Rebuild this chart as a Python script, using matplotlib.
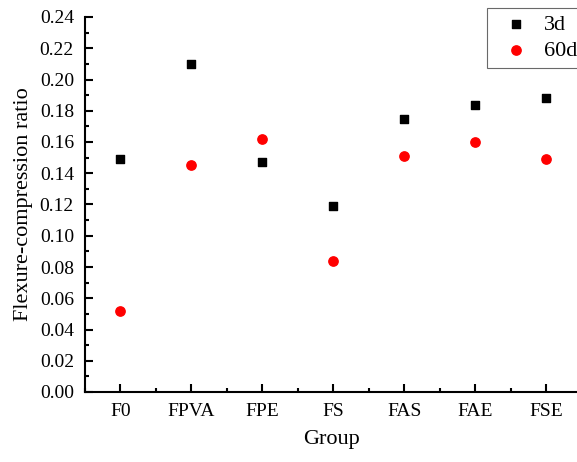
import matplotlib
matplotlib.use("Agg")
import matplotlib.pyplot as plt
from matplotlib.ticker import MultipleLocator, FixedLocator

# =========================
# DATA
# =========================
groups = ["F0", "FPVA", "FPE", "FS", "FAS", "FAE", "FSE"]
ratio_3d = [0.149, 0.210, 0.147, 0.119, 0.175, 0.184, 0.188]
ratio_60d = [0.052, 0.145, 0.162, 0.084, 0.151, 0.160, 0.149]

plt.rcParams["font.family"] = ["Liberation Serif", "DejaVu Serif"]

fig = plt.figure(figsize=(5.77, 4.62), dpi=100)
ax = fig.add_axes([85 / 577, 70 / 462, 492 / 577, 375 / 462])

x = list(range(len(groups)))
ax.scatter(x, ratio_3d, marker="s", s=36, color="black", label="3d", zorder=3)
ax.scatter(x, ratio_60d, marker="o", s=45, color="red", label="60d", zorder=3)

ax.set_xlim(-0.5, 6.43)
ax.set_ylim(0, 0.24)
ax.set_xticks(x)
ax.set_xticklabels(groups)
ax.xaxis.set_minor_locator(FixedLocator([i + 0.5 for i in range(-1, 7)]))
ax.yaxis.set_major_locator(MultipleLocator(0.02))
ax.yaxis.set_minor_locator(MultipleLocator(0.01))
ax.yaxis.set_major_formatter(matplotlib.ticker.FormatStrFormatter("%.2f"))

ax.spines["top"].set_visible(False)
ax.spines["right"].set_visible(False)
ax.spines["left"].set_linewidth(1.5)
ax.spines["bottom"].set_linewidth(1.5)
ax.tick_params(which="both", direction="in", width=1.5, labelsize=14)
ax.tick_params(which="major", length=6, pad=8)
ax.tick_params(which="minor", length=3)

ax.set_xlabel("Group", fontsize=16, labelpad=7)
ax.set_ylabel("Flexure-compression ratio", fontsize=16, labelpad=5)

leg = fig.legend(loc="upper left", bbox_to_anchor=(487 / 577, 1 - 8 / 462),
                 fontsize=16, frameon=True, fancybox=False, edgecolor="#444444",
                 handletextpad=0.25, borderpad=0.3, labelspacing=0.25,
                 borderaxespad=0)
leg.get_frame().set_linewidth(0.8)

fig.savefig("out.png", dpi=100)
